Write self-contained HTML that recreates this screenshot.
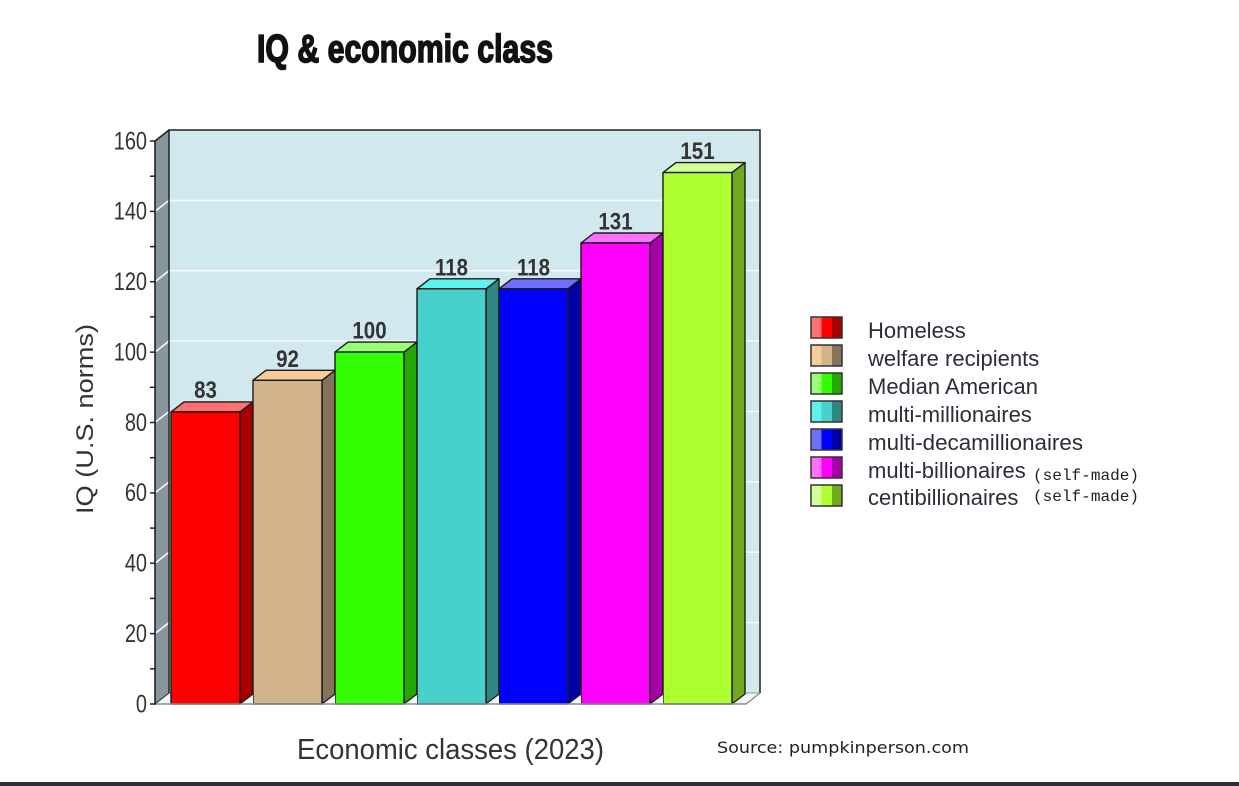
<!DOCTYPE html>
<html>
<head>
<meta charset="utf-8">
<style>
html,body{margin:0;padding:0;background:#fff;}
body{width:1239px;height:786px;overflow:hidden;}
svg{display:block;}
</style>
</head>
<body>
<svg width="1239" height="786" viewBox="0 0 1239 786" xmlns="http://www.w3.org/2000/svg">
  <rect x="0" y="0" width="1239" height="786" fill="#ffffff"/>

  <!-- Title -->
  <text x="257" y="62" font-family="Liberation Sans Narrow, Liberation Sans, sans-serif" font-weight="bold" font-size="39" fill="#111" stroke="#111" stroke-width="1.6" textLength="296" lengthAdjust="spacingAndGlyphs">IQ &amp; economic class</text>

  <!-- Back wall -->
  <rect x="169" y="130" width="591" height="563" fill="#d2e8ef"/>
  <!-- Floor -->
  <polygon points="155,704 169,693 760,693 746,704" fill="#f3f7f8" stroke="#8f9a9c" stroke-width="1"/>
  <!-- Left wall -->
  <polygon points="155,141 169,130 169,693 155,704" fill="#87969a" stroke="#333" stroke-width="1"/>

  <!-- Gridlines -->
  <g stroke="#f4f9fb" stroke-width="1.6" fill="none">
    <polyline points="155,633.6 169,622.6 760,622.6"/>
    <polyline points="155,563.2 169,552.2 760,552.2"/>
    <polyline points="155,492.9 169,481.9 760,481.9"/>
    <polyline points="155,422.5 169,411.5 760,411.5"/>
    <polyline points="155,352.1 169,341.1 760,341.1"/>
    <polyline points="155,281.7 169,270.7 760,270.7"/>
    <polyline points="155,211.4 169,200.4 760,200.4"/>
  </g>

  <!-- Back wall border -->
  <polyline points="169,693 169,130 760,130 760,693" fill="none" stroke="#222" stroke-width="1.5"/>
  <line x1="155" y1="141" x2="169" y2="130" stroke="#222" stroke-width="1.5"/>

  <!-- Bars -->
  <g stroke="#1a1a1a" stroke-width="1.4" stroke-linejoin="round">
    <polygon points="240,411.9 253,401.9 253,694 240,704" fill="#a80000"/>
    <polygon points="171,411.9 184,401.9 253,401.9 240,411.9" fill="#ff7070"/>
    <rect x="171" y="411.9" width="69" height="292.1" fill="#ff0000"/>
    <polygon points="322,380.3 335,370.3 335,694 322,704" fill="#87735a"/>
    <polygon points="253,380.3 266,370.3 335,370.3 322,380.3" fill="#f7cc98"/>
    <rect x="253" y="380.3" width="69" height="323.7" fill="#d2b48c"/>
    <polygon points="404,352.1 417,342.1 417,694 404,704" fill="#22a800"/>
    <polygon points="335,352.1 348,342.1 417,342.1 404,352.1" fill="#99ff77"/>
    <rect x="335" y="352.1" width="69" height="351.9" fill="#33ff00"/>
    <polygon points="486,288.8 499,278.8 499,694 486,704" fill="#2f8784"/>
    <polygon points="417,288.8 430,278.8 499,278.8 486,288.8" fill="#5ef2ee"/>
    <rect x="417" y="288.8" width="69" height="415.2" fill="#48d1cc"/>
    <polygon points="568,288.8 581,278.8 581,694 568,704" fill="#0000a8"/>
    <polygon points="499,288.8 512,278.8 581,278.8 568,288.8" fill="#7070ff"/>
    <rect x="499" y="288.8" width="69" height="415.2" fill="#0000ff"/>
    <polygon points="650,243 663,233 663,694 650,704" fill="#a800a8"/>
    <polygon points="581,243 594,233 663,233 650,243" fill="#ff70ff"/>
    <rect x="581" y="243" width="69" height="461" fill="#ff00ff"/>
    <polygon points="732,172.6 745,162.6 745,694 732,704" fill="#70a81e"/>
    <polygon points="663,172.6 676,162.6 745,162.6 732,172.6" fill="#d4ff98"/>
    <rect x="663" y="172.6" width="69" height="531.4" fill="#adff2f"/>
  </g>

  <g fill="#f3f7f8" stroke="none">
    <polygon points="156,704 169,694 169,704"/>
    <polygon points="241,704 253,695 253,704"/>
    <polygon points="323,704 335,695 335,704"/>
    <polygon points="405,704 417,695 417,704"/>
    <polygon points="487,704 499,695 499,704"/>
    <polygon points="569,704 581,695 581,704"/>
    <polygon points="651,704 663,695 663,704"/>
    <polygon points="733,704 745,695 745,704"/>
  </g>

  <!-- Axes -->
  <line x1="155" y1="141" x2="155" y2="704" stroke="#222" stroke-width="1.6"/>
  <polyline points="155,704 746,704 760,693" fill="none" stroke="#8a8f90" stroke-width="1.4"/>

  <!-- Ticks -->
  <g stroke="#222" stroke-width="1.5">
    <line x1="150" y1="704" x2="156" y2="704"/>
    <line x1="150" y1="668.8" x2="156" y2="668.8"/>
    <line x1="150" y1="633.6" x2="156" y2="633.6"/>
    <line x1="150" y1="598.4" x2="156" y2="598.4"/>
    <line x1="150" y1="563.2" x2="156" y2="563.2"/>
    <line x1="150" y1="528.1" x2="156" y2="528.1"/>
    <line x1="150" y1="492.9" x2="156" y2="492.9"/>
    <line x1="150" y1="457.7" x2="156" y2="457.7"/>
    <line x1="150" y1="422.5" x2="156" y2="422.5"/>
    <line x1="150" y1="387.3" x2="156" y2="387.3"/>
    <line x1="150" y1="352.1" x2="156" y2="352.1"/>
    <line x1="150" y1="316.9" x2="156" y2="316.9"/>
    <line x1="150" y1="281.7" x2="156" y2="281.7"/>
    <line x1="150" y1="246.6" x2="156" y2="246.6"/>
    <line x1="150" y1="211.4" x2="156" y2="211.4"/>
    <line x1="150" y1="176.2" x2="156" y2="176.2"/>
    <line x1="150" y1="141" x2="156" y2="141"/>
  </g>

  <!-- Tick labels (slightly tall glyphs) -->
  <g font-family="Liberation Sans, Arial, sans-serif" font-size="21" fill="#333" text-anchor="end">
    <text transform="translate(147,712.5) scale(0.95,1.18)">0</text>
    <text transform="translate(147,642) scale(0.95,1.18)">20</text>
    <text transform="translate(147,571.5) scale(0.95,1.18)">40</text>
    <text transform="translate(147,501) scale(0.95,1.18)">60</text>
    <text transform="translate(147,431) scale(0.95,1.18)">80</text>
    <text transform="translate(147,360.5) scale(0.95,1.18)">100</text>
    <text transform="translate(147,290) scale(0.95,1.18)">120</text>
    <text transform="translate(147,219.5) scale(0.95,1.18)">140</text>
    <text transform="translate(147,149.5) scale(0.95,1.18)">160</text>
  </g>

  <!-- Value labels -->
  <g font-family="Liberation Sans, Arial, sans-serif" font-size="20.5" font-weight="bold" fill="#333" text-anchor="middle">
    <text transform="translate(205.5,398) scale(1,1.18)">83</text>
    <text transform="translate(287.5,367) scale(1,1.18)">92</text>
    <text transform="translate(369.5,338.5) scale(1,1.18)">100</text>
    <text transform="translate(451.5,275.5) scale(1,1.18)">118</text>
    <text transform="translate(533.5,275.5) scale(1,1.18)">118</text>
    <text transform="translate(615.5,229.5) scale(1,1.18)">131</text>
    <text transform="translate(697.5,159) scale(1,1.18)">151</text>
  </g>

  <!-- Y axis title -->
  <text transform="translate(93,419) rotate(-90)" font-family="Liberation Sans, Arial, sans-serif" font-size="24" fill="#333" text-anchor="middle" textLength="190" lengthAdjust="spacingAndGlyphs">IQ (U.S. norms)</text>

  <!-- X axis title -->
  <text transform="translate(297,759) scale(1,1.1)" font-family="Liberation Sans, Arial, sans-serif" font-size="26" fill="#333" textLength="307" lengthAdjust="spacingAndGlyphs">Economic classes (2023)</text>

  <!-- Source -->
  <text x="717" y="753" font-family="DejaVu Sans, Liberation Sans, sans-serif" font-size="16" fill="#222" textLength="252" lengthAdjust="spacingAndGlyphs">Source: pumpkinperson.com</text>

  <!-- Legend swatches -->
  <g stroke="none">
    <rect x="811" y="317" width="10.5" height="21" fill="#ff7070"/><rect x="821.5" y="317" width="10.5" height="21" fill="#ff0000"/><rect x="832" y="317" width="10" height="21" fill="#a80000"/>
    <rect x="811" y="345" width="10.5" height="21" fill="#f7cc98"/><rect x="821.5" y="345" width="10.5" height="21" fill="#d2b48c"/><rect x="832" y="345" width="10" height="21" fill="#87735a"/>
    <rect x="811" y="373" width="10.5" height="21" fill="#99ff77"/><rect x="821.5" y="373" width="10.5" height="21" fill="#33ff00"/><rect x="832" y="373" width="10" height="21" fill="#22a800"/>
    <rect x="811" y="401" width="10.5" height="21" fill="#5ef2ee"/><rect x="821.5" y="401" width="10.5" height="21" fill="#48d1cc"/><rect x="832" y="401" width="10" height="21" fill="#2f8784"/>
    <rect x="811" y="429" width="10.5" height="21" fill="#7070ff"/><rect x="821.5" y="429" width="10.5" height="21" fill="#0000ff"/><rect x="832" y="429" width="10" height="21" fill="#0000a8"/>
    <rect x="811" y="457" width="10.5" height="21" fill="#ff70ff"/><rect x="821.5" y="457" width="10.5" height="21" fill="#ff00ff"/><rect x="832" y="457" width="10" height="21" fill="#a800a8"/>
    <rect x="811" y="485" width="10.5" height="21" fill="#d4ff98"/><rect x="821.5" y="485" width="10.5" height="21" fill="#adff2f"/><rect x="832" y="485" width="10" height="21" fill="#70a81e"/>
  </g>
  <g fill="none" stroke="#333" stroke-width="1.5">
    <rect x="811" y="317" width="31" height="21"/>
    <rect x="811" y="345" width="31" height="21"/>
    <rect x="811" y="373" width="31" height="21"/>
    <rect x="811" y="401" width="31" height="21"/>
    <rect x="811" y="429" width="31" height="21"/>
    <rect x="811" y="457" width="31" height="21"/>
    <rect x="811" y="485" width="31" height="21"/>
  </g>

  <!-- Legend text -->
  <g font-family="Liberation Sans, Arial, sans-serif" font-size="22" fill="#2d2d3a">
    <text x="868" y="338">Homeless</text>
    <text x="868" y="366">welfare recipients</text>
    <text x="868" y="394">Median American</text>
    <text x="868" y="422">multi-millionaires</text>
    <text x="868" y="450" textLength="215" lengthAdjust="spacingAndGlyphs">multi-decamillionaires</text>
    <text x="868" y="478">multi-billionaires</text>
    <text x="868" y="505">centibillionaires</text>
  </g>
  <g font-family="Liberation Mono, DejaVu Sans Mono, monospace" font-size="16" fill="#222">
    <text x="1033" y="480" textLength="106" lengthAdjust="spacingAndGlyphs">(self-made)</text>
    <text x="1033" y="501" textLength="106" lengthAdjust="spacingAndGlyphs">(self-made)</text>
  </g>

  <!-- Bottom dark bar -->
  <rect x="0" y="782" width="1239" height="4" fill="#2b2f36"/>
</svg>
</body>
</html>
